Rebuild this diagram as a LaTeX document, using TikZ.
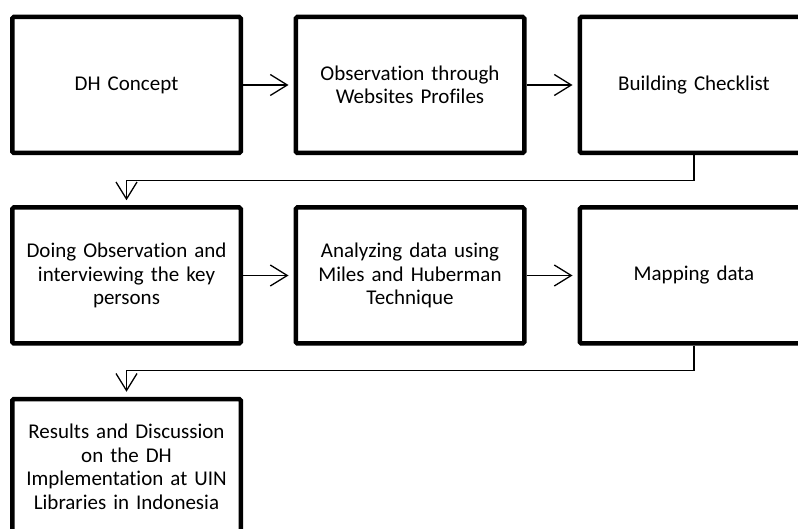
\documentclass[tikz,border=0pt]{standalone}
\usepackage{fontspec}
\setmainfont{Carlito}[Ligatures=NoCommon]
\usetikzlibrary{arrows.meta}
\tikzset{
	stage/.style={shape=rectangle,draw,line width=4.5pt,rounded corners=1.5pt,minimum width=228.5pt,minimum height=136pt,text width=218pt,align=center,font=\fontsize{21}{23.5}\selectfont},
	flow/.style={line width=1.3pt,shorten >=5pt,-{Straight Barb[length=17pt,width=21pt]}}
}
\begin{document}
\begin{tikzpicture}[x=1pt,y=1pt]
	\useasboundingbox (0,0) rectangle (798,-529);
	\clip (0,0) rectangle (798,-529);
	% first row
	\draw (126.5,-85) node (c1) [stage] {DH Concept};
	\draw (410,-85) node (c2) [stage] {Observation through\\Websites Profiles};
	\draw (694,-85) node (c3) [stage] {Building Checklist};
	% second row
	\draw (126.5,-275.5) node (d1) [stage] {Doing Observation and\\interviewing the key\\persons};
	\draw (410,-275.5) node (d2) [stage] {Analyzing data using\\Miles and Huberman\\Technique};
	\draw (694,-275.5) node (d3) [stage] {Mapping data};
	% last row
	\draw (126.5,-467) node (e1) [stage] {Results and Discussion\\on the DH\\Implementation at UIN\\Libraries in Indonesia};
	\foreach \r in {c,d} {
		\draw[flow] (\r1) -- (\r2);
		\draw[flow] (\r2) -- (\r3);
	}
	\draw[flow] (c3.south) -- ++(0,-25) -| (d1.north);
	\draw[flow] (d3.south) -- ++(0,-25) -| (e1.north);
\end{tikzpicture}
\end{document}
